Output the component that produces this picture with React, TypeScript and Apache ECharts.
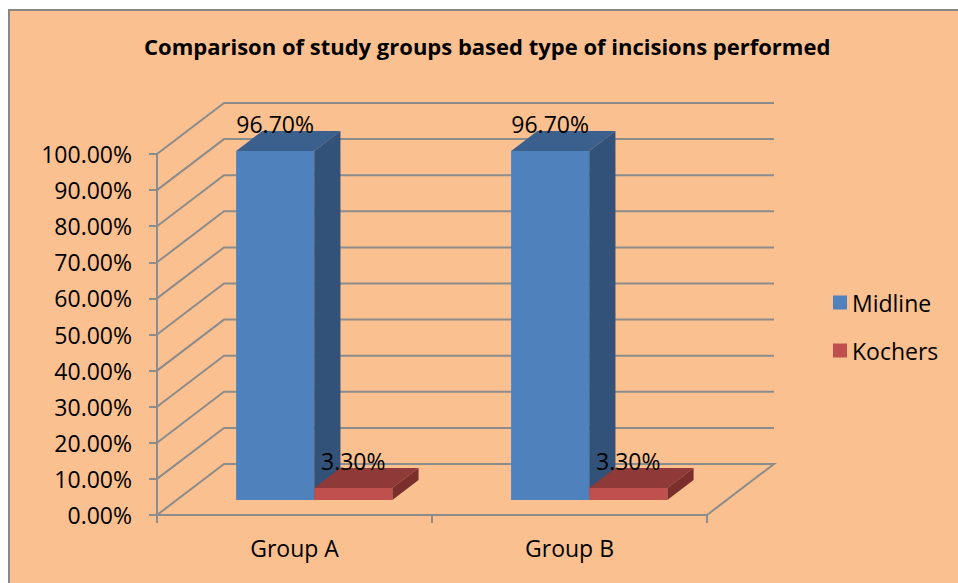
import React, { useEffect, useRef } from "react";
import * as echarts from "echarts";

const categories = ["Group A", "Group B"];
const seriesNames = ["Midline", "Kochers"];
const midlineValues = [0.967, 0.967];
const kochersValues = [0.033, 0.033];
const gridValues = [0, 0.1, 0.2, 0.3, 0.4, 0.5, 0.6, 0.7, 0.8, 0.9, 1.0];
const titleText = "Comparison of study groups based type of incisions performed";

const FONT = "'Open Sans', 'Noto Sans', sans-serif";
const FS = 23;
const GRAY = "#8c8c8c";
const DX = 67;
const DY = -51;
const Z1 = 0.294;
const Z2 = 0.686;
const BAR_FRAC = 0.284;

const fmtPct = (v: number) => (v * 100).toFixed(2) + "%";

function renderWall(params: any, api: any) {
  const v = api.value(1);
  const cs = params.coordSys;
  const y = api.coord([0, v])[1];
  const xl = cs.x;
  const xr = cs.x + cs.width;
  const pts: number[][] = [
    [xl, y],
    [xl + DX, y + DY],
    [xr + DX, y + DY],
  ];
  if (v === 0) pts.push([xr, y]);
  return {
    type: "polyline",
    shape: { points: pts },
    style: { stroke: GRAY, lineWidth: 2, fill: null },
  };
}

function makeBarRender(side: number, colors: { front: string; top: string; side: string }) {
  return (params: any, api: any) => {
    const ci = api.value(0);
    const v = api.value(1);
    const top = api.coord([ci, v]);
    const base = api.coord([ci, 0]);
    const band = api.size([1, 0])[0];
    const w = band * BAR_FRAC;
    const x0 = side === 0 ? top[0] - w : top[0];
    const x1 = x0 + w;
    const ax = DX * Z1, ay = DY * Z1, bx = DX * Z2, by = DY * Z2;
    const yt = top[1];
    const yb = base[1];
    return {
      type: "group",
      children: [
        {
          type: "polygon",
          shape: { points: [[x0 + ax, yt + ay], [x1 + ax, yt + ay], [x1 + bx, yt + by], [x0 + bx, yt + by]] },
          style: { fill: colors.top },
        },
        {
          type: "polygon",
          shape: { points: [[x1 + ax, yt + ay], [x1 + bx, yt + by], [x1 + bx, yb + by], [x1 + ax, yb + ay]] },
          style: { fill: colors.side },
        },
        {
          type: "rect",
          shape: { x: x0 + ax, y: yt + ay, width: w, height: yb - yt },
          style: { fill: colors.front },
        },
        {
          type: "text",
          style: {
            text: fmtPct(v),
            x: (x0 + x1) / 2 + ax,
            y: yt + ay - 27,
            align: "center",
            verticalAlign: "middle",
            fontSize: FS,
            fontFamily: FONT,
            fill: "#000",
          },
        },
      ],
    };
  };
}

export default function App() {
  const ref = useRef<HTMLDivElement>(null);
  useEffect(() => {
    if (!ref.current) return;
    const chart = echarts.init(ref.current, undefined, { renderer: "svg" });
    chart.setOption({
      animation: false,
      backgroundColor: "#ffffff",
      color: ["#4F81BD", "#C0504D"],
      title: {
        text: titleText,
        left: 144,
        top: 35,
        padding: 0,
        textStyle: { fontFamily: FONT, fontWeight: "bold", fontSize: 22, color: "#000" },
      },
      graphic: [
        {
          type: "rect",
          z: -10,
          silent: true,
          shape: { x: 9, y: 10, width: 1000, height: 1000 },
          style: { fill: "#FAC090", stroke: "#878787", lineWidth: 2 },
        },
      ],
      legend: {
        data: seriesNames,
        orient: "vertical",
        left: 833,
        top: 291,
        padding: 0,
        itemGap: 25,
        itemWidth: 14,
        itemHeight: 14,
        icon: "rect",
        textStyle: { fontFamily: FONT, fontSize: FS, color: "#000" },
      },
      grid: { left: 157, right: 251, top: 154, bottom: 68, containLabel: false },
      xAxis: {
        type: "category",
        data: categories,
        axisLine: { show: true, lineStyle: { color: GRAY, width: 2 } },
        axisTick: { show: true, length: 8, lineStyle: { color: GRAY, width: 2 } },
        axisLabel: { margin: 21, fontFamily: FONT, fontSize: FS, color: "#000" },
        splitLine: { show: false },
      },
      yAxis: {
        type: "value",
        min: 0,
        max: 1,
        interval: 0.1,
        axisLine: { show: true, lineStyle: { color: GRAY, width: 2 } },
        axisTick: { show: true, length: 8, lineStyle: { color: GRAY, width: 2 } },
        axisLabel: { margin: 25, fontFamily: FONT, fontSize: FS, color: "#000", formatter: (v: number) => fmtPct(v) },
        splitLine: { show: false },
      },
      series: [
        {
          name: seriesNames[0],
          type: "custom",
          z: 3,
          itemStyle: { color: "#4F81BD" },
          encode: { x: 0, y: 1 },
          data: midlineValues.map((v, i) => [i, v]),
          renderItem: makeBarRender(0, { front: "#4F81BD", top: "#3C608D", side: "#32527A" }),
        },
        {
          name: seriesNames[1],
          type: "custom",
          z: 4,
          itemStyle: { color: "#C0504D" },
          encode: { x: 0, y: 1 },
          data: kochersValues.map((v, i) => [i, v]),
          renderItem: makeBarRender(1, { front: "#C0504D", top: "#8F3A38", side: "#7A2F2D" }),
        },
        {
          name: "walls",
          type: "custom",
          z: 1,
          silent: true,
          encode: { x: 0, y: 1 },
          data: gridValues.map((v) => [0, v]),
          renderItem: renderWall,
        },
      ],
    });
    return () => chart.dispose();
  }, []);
  return (
    <div
      ref={ref}
      style={{ position: "fixed", left: 0, top: 0, width: 958, height: 583, background: "#fff" }}
    />
  );
}
